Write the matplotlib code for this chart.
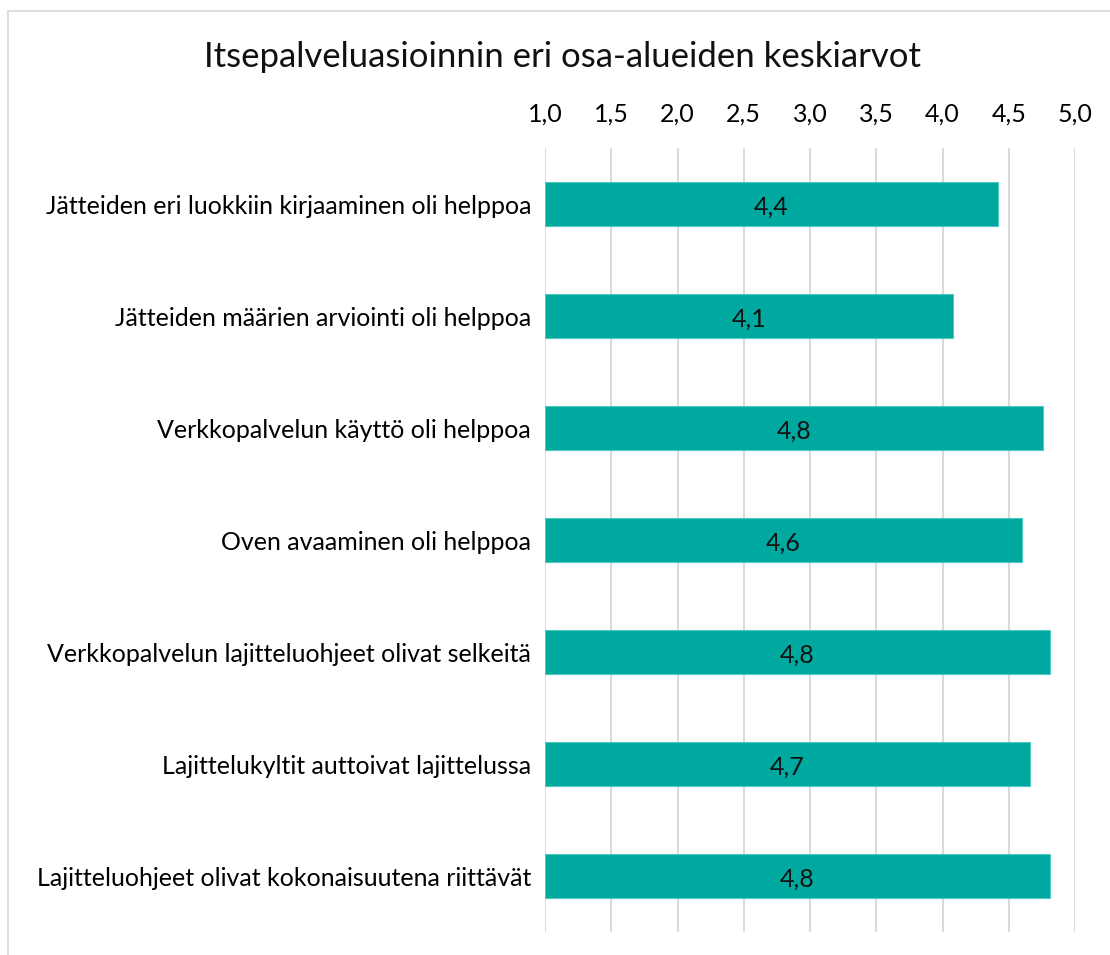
import numpy as np
import matplotlib.pyplot as plt
from matplotlib.patches import Rectangle

plt.rcParams['font.family'] = ['Lato', 'DejaVu Sans']

# data
categories = ['Jätteiden eri luokkiin kirjaaminen oli helppoa',
              'Jätteiden määrien arviointi oli helppoa',
              'Verkkopalvelun käyttö oli helppoa',
              'Oven avaaminen oli helppoa',
              'Verkkopalvelun lajitteluohjeet olivat selkeitä',
              'Lajittelukyltit auttoivat lajittelussa',
              'Lajitteluohjeet olivat kokonaisuutena riittävät']
values = [4.42, 4.08, 4.76, 4.60, 4.81, 4.66, 4.81]
xticks = [1.0, 1.5, 2.0, 2.5, 3.0, 3.5, 4.0, 4.5, 5.0]
title = 'Itsepalveluasioinnin eri osa-alueiden keskiarvot'

fig = plt.figure(figsize=(11.1, 9.55), dpi=100)
ax = fig.add_axes([545/1110, 1-932/955, 530/1110, (932-148)/955])

# outer chart border
fig.patches.append(Rectangle((8/1110, -0.1), 1.2, 1-11/955+0.1, transform=fig.transFigure,
                             fill=False, edgecolor='#D9D9D9', linewidth=1.2))

y = np.arange(len(categories))
bars = ax.barh(y, [v - 1 for v in values], left=1, height=0.4,
               color='#00A9A0', edgecolor='#4FC9C0', linewidth=0.8, zorder=3)

for yi, v in zip(y, values):
    ax.text((1 + v) / 2, yi + 0.03, f'{v:.1f}'.replace('.', ','), ha='center', va='center',
            fontsize=18, color='#111111', zorder=4)

ax.set_xlim(1, 5)
ax.set_ylim(len(categories) - 0.5, -0.5)
ax.set_xticks(xticks)
ax.set_xticklabels([f'{t:.1f}'.replace('.', ',') for t in xticks], fontsize=18)
ax.xaxis.tick_top()
ax.set_yticks(y)
ax.set_yticklabels(categories, fontsize=18)
ax.tick_params(axis='both', length=0)
ax.tick_params(axis='x', pad=16)
ax.tick_params(axis='y', pad=10)
ax.grid(axis='x', color='#D9D9D9', linewidth=1.4, zorder=0)
for s in ax.spines.values():
    s.set_visible(False)

fig.text(563/1110, 1-57/955, title, ha='center', va='center', fontsize=25, color='#111111')

fig.savefig('out.png', dpi=100)
